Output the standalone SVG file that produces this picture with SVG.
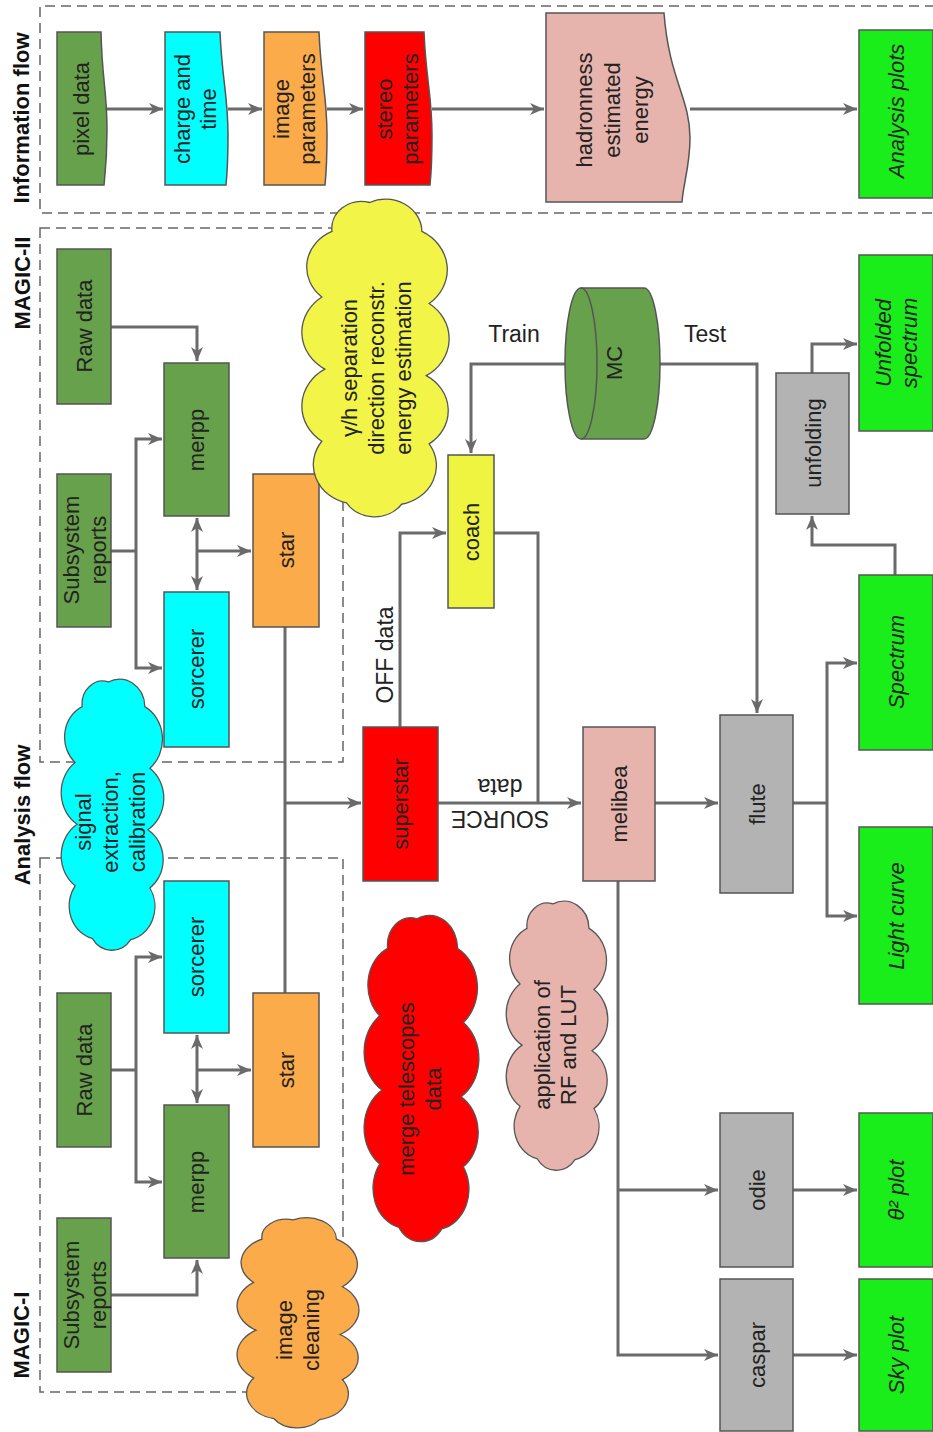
<svg xmlns="http://www.w3.org/2000/svg" xmlns:xlink="http://www.w3.org/1999/xlink" width="933" height="1432" viewBox="0 0 933 1432">
<style>
.box{stroke:#555;stroke-width:1.5}
.g{fill:#68a14b}.c{fill:#00ffff}.o{fill:#fcab4b}.r{fill:#ff0000}.p{fill:#e6b4ac}.y{fill:#eef43f}.gr{fill:#b3b3b3}.lg{fill:#1aee1a}.yc{fill:#f2f548}
.t{font-family:"Liberation Sans",Arial,sans-serif;font-size:22px;fill:#222;text-anchor:middle;dominant-baseline:central}
.it{font-style:italic}
.lbl{font-weight:bold;font-size:22px;fill:#111}
.conn path{fill:none;stroke:#6a6a6a;stroke-width:3}
.frame{fill:none;stroke:#666;stroke-width:1.5;stroke-dasharray:10 6}
.cl{stroke:#555;stroke-width:1.3}
</style>
<defs>
<marker id="ah" markerUnits="userSpaceOnUse" markerWidth="16" markerHeight="14" refX="14" refY="6" orient="auto-start-reverse" viewBox="0 0 16 14">
<path d="M0,0 L14,6 L0,12 L4,6 Z" fill="#6a6a6a"/>
</marker>
<path id="cloud" vector-effect="non-scaling-stroke" d="M46,8 A25,25 0 0 1 82,30 A33,33 0 0 1 87,85 A33,33 0 0 1 85,140 A31,31 0 0 1 87,192 A30,30 0 0 1 68,238 A23,23 0 0 1 30,237 A30,30 0 0 1 13,190 A33,33 0 0 1 15,135 A33,33 0 0 1 13,80 A30,30 0 0 1 20,30 A20.5,20.5 0 0 1 46,8 Z"/>
</defs>
<rect width="933" height="1432" fill="#ffffff"/>

<!-- frames -->
<g id="frames">
<path class="frame" d="M935,6 H40 V213 H935"/>
<rect class="frame" x="40" y="228" width="303" height="534"/>
<rect class="frame" x="40" y="858" width="303" height="534"/>
</g>

<!-- section labels -->
<g id="labels">
<text class="t lbl" transform="translate(21,118) rotate(-90)">Information flow</text>
<text class="t lbl" transform="translate(22,283) rotate(-90)">MAGIC-II</text>
<text class="t lbl" transform="translate(22,815) rotate(-90)">Analysis flow</text>
<text class="t lbl" transform="translate(21,1335) rotate(-90)">MAGIC-I</text>
</g>

<!-- connectors -->
<g id="connectors" class="conn">
<path d="M107,109 H163" marker-end="url(#ah)"/>
<path d="M228,109 H262" marker-end="url(#ah)"/>
<path d="M327,109 H363" marker-end="url(#ah)"/>
<path d="M432,109 H544" marker-end="url(#ah)"/>
<path d="M690,109 H857" marker-end="url(#ah)"/>

<path d="M111,327 H197 V361" marker-end="url(#ah)"/>
<path d="M111,551 H136"/>
<path d="M136,551 V439 H162" marker-end="url(#ah)"/>
<path d="M136,551 V668 H162" marker-end="url(#ah)"/>
<path d="M197,518 V590" marker-start="url(#ah)" marker-end="url(#ah)"/>
<path d="M197,551 H251" marker-end="url(#ah)"/>
<path d="M285,627 V993"/>
<path d="M285,803 H361" marker-end="url(#ah)"/>

<path d="M111,1070 H136"/>
<path d="M136,1070 V957 H162" marker-end="url(#ah)"/>
<path d="M136,1070 V1182 H162" marker-end="url(#ah)"/>
<path d="M197,1035 V1103" marker-start="url(#ah)" marker-end="url(#ah)"/>
<path d="M197,1070 H251" marker-end="url(#ah)"/>
<path d="M111,1295 H197 V1260" marker-end="url(#ah)"/>

<path d="M400,727 V533 H446" marker-end="url(#ah)"/>
<path d="M438,803 H581" marker-end="url(#ah)"/>
<path d="M494,533 H538 V803"/>
<path d="M565,364 H471 V453" marker-end="url(#ah)"/>
<path d="M660,364 H757 V713" marker-end="url(#ah)"/>
<path d="M655,803 H718" marker-end="url(#ah)"/>
<path d="M793,803 H827"/>
<path d="M827,803 V663 H857" marker-end="url(#ah)"/>
<path d="M827,803 V916 H857" marker-end="url(#ah)"/>
<path d="M618,881 V1355 H718" marker-end="url(#ah)"/>
<path d="M618,1190 H718" marker-end="url(#ah)"/>
<path d="M793,1190 H857" marker-end="url(#ah)"/>
<path d="M793,1355 H857" marker-end="url(#ah)"/>
<path d="M895,575 V545 H812 V516" marker-end="url(#ah)"/>
<path d="M812,373 V344 H857" marker-end="url(#ah)"/>
</g>

<!-- information flow nodes -->
<g id="pixel-data">
<path class="box g" d="M57,32 H101 C102,80 107,90 107,130 C107,160 105,175 104,185 H57 Z"/>
<text class="t" transform="translate(81,109) rotate(-90)">pixel data</text>
</g>
<g id="charge-time">
<path class="box c" d="M165,32 H220 C222,80 228,95 228,135 C228,160 227,175 226,185 H165 Z"/>
<text class="t" transform="translate(195,109) rotate(-90)"><tspan x="0" y="-13">charge and</tspan><tspan x="0" y="13">time</tspan></text>
</g>
<g id="image-parameters">
<path class="box o" d="M264,32 H319 C321,80 327,95 327,135 C327,160 326,175 325,185 H264 Z"/>
<text class="t" transform="translate(294,109) rotate(-90)"><tspan x="0" y="-13">image</tspan><tspan x="0" y="13">parameters</tspan></text>
</g>
<g id="stereo-parameters">
<path class="box r" d="M365,32 H424 C426,80 432,95 432,135 C432,160 431,175 430,185 H365 Z"/>
<text class="t" transform="translate(397,109) rotate(-90)"><tspan x="0" y="-13">stereo</tspan><tspan x="0" y="13">parameters</tspan></text>
</g>
<g id="hadronness">
<path class="box p" d="M546,13 H664 C669,79 690,98 690,138 C690,166 683,185 682,202 H546 Z"/>
<text class="t" transform="translate(612,110) rotate(-90)"><tspan x="0" y="-28">hadronness</tspan><tspan x="0" y="0">estimated</tspan><tspan x="0" y="28">energy</tspan></text>
</g>
<g id="analysis-plots">
<rect class="box lg" x="859" y="30" width="74" height="168"/>
<text class="t it" transform="translate(896,111) rotate(-90)">Analysis plots</text>
</g>

<!-- MAGIC-II -->
<g id="raw2">
<rect class="box g" x="57" y="249" width="54" height="155"/>
<text class="t" transform="translate(84,326) rotate(-90)">Raw data</text>
</g>
<g id="sub2">
<rect class="box g" x="57" y="474" width="54" height="153"/>
<text class="t" transform="translate(85,550) rotate(-90)"><tspan x="0" y="-14">Subsystem</tspan><tspan x="0" y="13">reports</tspan></text>
</g>
<g id="merpp2">
<rect class="box g" x="164" y="363" width="65" height="153"/>
<text class="t" transform="translate(196,440) rotate(-90)">merpp</text>
</g>
<g id="sorcerer2">
<rect class="box c" x="164" y="592" width="65" height="155"/>
<text class="t" transform="translate(196,669) rotate(-90)">sorcerer</text>
</g>
<g id="star2">
<rect class="box o" x="253" y="474" width="66" height="153"/>
<text class="t" transform="translate(286,550) rotate(-90)">star</text>
</g>

<!-- MAGIC-I -->
<g id="sorcerer1">
<rect class="box c" x="164" y="881" width="65" height="152"/>
<text class="t" transform="translate(196,957) rotate(-90)">sorcerer</text>
</g>
<g id="raw1">
<rect class="box g" x="57" y="993" width="54" height="154"/>
<text class="t" transform="translate(84,1070) rotate(-90)">Raw data</text>
</g>
<g id="star1">
<rect class="box o" x="253" y="993" width="66" height="154"/>
<text class="t" transform="translate(286,1070) rotate(-90)">star</text>
</g>
<g id="merpp1">
<rect class="box g" x="164" y="1105" width="65" height="153"/>
<text class="t" transform="translate(196,1182) rotate(-90)">merpp</text>
</g>
<g id="sub1">
<rect class="box g" x="57" y="1218" width="54" height="154"/>
<text class="t" transform="translate(85,1295) rotate(-90)"><tspan x="0" y="-14">Subsystem</tspan><tspan x="0" y="13">reports</tspan></text>
</g>

<!-- central -->
<g id="superstar">
<rect class="box r" x="363" y="727" width="75" height="154"/>
<text class="t" transform="translate(400,804) rotate(-90)">superstar</text>
</g>
<g id="coach">
<rect class="box y" x="448" y="455" width="46" height="153"/>
<text class="t" transform="translate(471,532) rotate(-90)">coach</text>
</g>
<g id="mc">
<path class="box g" d="M581,288 H644 A16,75.5 0 0 1 644,439 H581 A16,75.5 0 0 1 581,288 Z"/>
<path fill="none" stroke="#555" stroke-width="1.5" d="M581,288 A16,75.5 0 0 1 581,439"/>
<text class="t" transform="translate(614,363) rotate(-90)">MC</text>
</g>
<g id="melibea">
<rect class="box p" x="583" y="727" width="72" height="154"/>
<text class="t" transform="translate(619,804) rotate(-90)">melibea</text>
</g>
<g id="flute">
<rect class="box gr" x="720" y="715" width="73" height="178"/>
<text class="t" transform="translate(757,804) rotate(-90)">flute</text>
</g>
<g id="odie">
<rect class="box gr" x="720" y="1113" width="73" height="154"/>
<text class="t" transform="translate(757,1190) rotate(-90)">odie</text>
</g>
<g id="caspar">
<rect class="box gr" x="720" y="1279" width="73" height="152"/>
<text class="t" transform="translate(757,1355) rotate(-90)">caspar</text>
</g>
<g id="unfolding">
<rect class="box gr" x="776" y="373" width="73" height="141"/>
<text class="t" transform="translate(813,443) rotate(-90)">unfolding</text>
</g>
<g id="unfolded-spectrum">
<rect class="box lg" x="859" y="255" width="74" height="176"/>
<text class="t it" transform="translate(896,343) rotate(-90)"><tspan x="0" y="-13">Unfolded</tspan><tspan x="0" y="13">spectrum</tspan></text>
</g>
<g id="spectrum">
<rect class="box lg" x="859" y="575" width="74" height="175"/>
<text class="t it" transform="translate(896,662) rotate(-90)">Spectrum</text>
</g>
<g id="light-curve">
<rect class="box lg" x="859" y="827" width="74" height="177"/>
<text class="t it" transform="translate(896,916) rotate(-90)">Light curve</text>
</g>
<g id="theta-plot">
<rect class="box lg" x="859" y="1113" width="74" height="154"/>
<text class="t it" transform="translate(896,1190) rotate(-90)">θ² plot</text>
</g>
<g id="sky-plot">
<rect class="box lg" x="859" y="1279" width="74" height="152"/>
<text class="t it" transform="translate(896,1355) rotate(-90)">Sky plot</text>
</g>

<!-- edge labels -->
<g id="edge-labels">
<text class="t" style="font-size:23px" x="514" y="334">Train</text>
<text class="t" style="font-size:23px" x="705" y="334">Test</text>
<text class="t" style="font-size:23px" transform="translate(385,655) rotate(-90)">OFF data</text>
<text class="t" style="font-size:23px" transform="translate(500,803) rotate(180)"><tspan x="0" y="-16">SOURCE</tspan><tspan x="0" y="16">data</tspan></text>
</g>

<!-- clouds -->
<g id="cloud-yellow">
<use xlink:href="#cloud" class="yc cl" transform="translate(303,192) scale(1.45,1.312)"/>
<text class="t" transform="translate(376,368) rotate(-90)"><tspan x="0" y="-27">γ/h separation</tspan><tspan x="0" y="0">direction reconstr.</tspan><tspan x="0" y="27">energy estimation</tspan></text>
</g>
<g id="cloud-cyan">
<use xlink:href="#cloud" class="c cl" transform="translate(62,673) scale(1.01,1.12)"/>
<text class="t" transform="translate(110,822) rotate(-90)"><tspan x="0" y="-27">signal</tspan><tspan x="0" y="0">extraction,</tspan><tspan x="0" y="27">calibration</tspan></text>
</g>
<g id="cloud-red">
<use xlink:href="#cloud" class="r cl" transform="translate(365,908) scale(1.13,1.348)"/>
<text class="t" transform="translate(420,1089) rotate(-90)"><tspan x="0" y="-14">merge telescopes</tspan><tspan x="0" y="13">data</tspan></text>
</g>
<g id="cloud-pink">
<use xlink:href="#cloud" class="p cl" transform="translate(507,895) scale(1.0,1.112)"/>
<text class="t" transform="translate(555,1045) rotate(-90)"><tspan x="0" y="-13">application of</tspan><tspan x="0" y="13">RF and LUT</tspan></text>
</g>
<g id="cloud-orange">
<use xlink:href="#cloud" class="o cl" transform="translate(238,1213) scale(1.2,0.868)"/>
<text class="t" transform="translate(298,1330) rotate(-90)"><tspan x="0" y="-14">image</tspan><tspan x="0" y="13">cleaning</tspan></text>
</g>
</svg>
